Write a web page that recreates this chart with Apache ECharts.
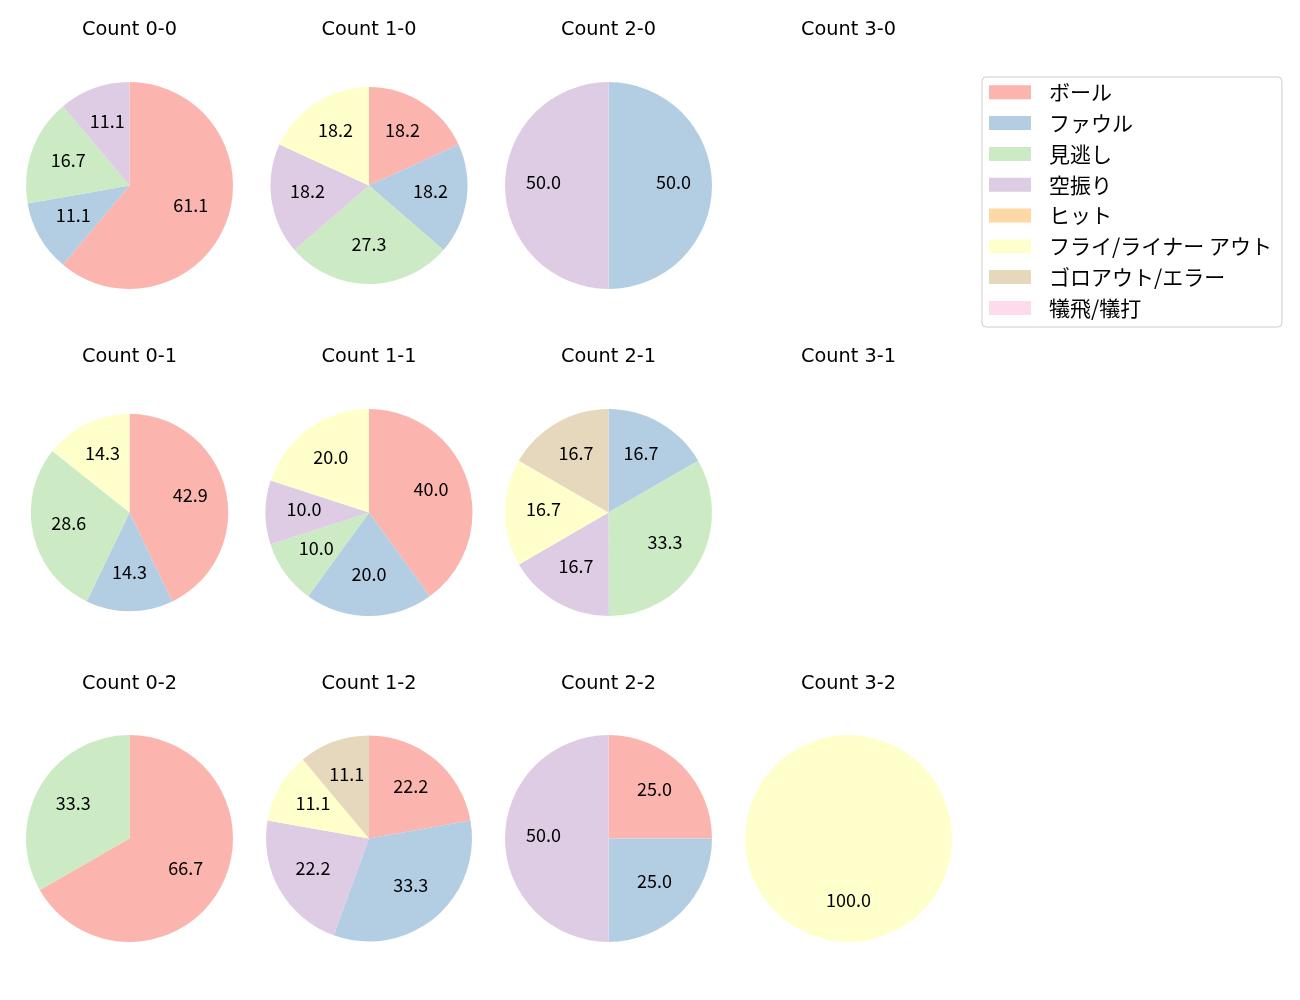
<!DOCTYPE html>
<html>
<head>
<meta charset="utf-8">
<script src="https://cdn.jsdelivr.net/npm/echarts@6/dist/echarts.min.js"></script>
<style>
html,body{margin:0;padding:0;background:#fff;}
#c{width:1300px;height:1000px;}
</style>
</head>
<body>
<div id="c"></div>
<script>
const categories = ['ボール','ファウル','見逃し','空振り','ヒット','フライ/ライナー アウト','ゴロアウト/エラー','犠飛/犠打'];
const colors = ['#fbb4ae','#b3cde3','#ccebc5','#decbe4','#fed9a6','#ffffcc','#e5d8bd','#fddaec'];

const countLabels = ['0-0','1-0','2-0','3-0','0-1','1-1','2-1','3-1','0-2','1-2','2-2','3-2'];

const v00 = [61.1, 11.1, 16.7, 11.1, 0, 0, 0, 0];
const v10 = [18.2, 18.2, 27.3, 18.2, 0, 18.2, 0, 0];
const v20 = [0, 50.0, 0, 50.0, 0, 0, 0, 0];
const v30 = [];
const v01 = [42.9, 14.3, 28.6, 0, 0, 14.3, 0, 0];
const v11 = [40.0, 20.0, 10.0, 10.0, 0, 20.0, 0, 0];
const v21 = [0, 16.7, 33.3, 16.7, 0, 16.7, 16.7, 0];
const v31 = [];
const v02 = [66.7, 0, 33.3, 0, 0, 0, 0, 0];
const v12 = [22.2, 33.3, 0, 22.2, 0, 11.1, 11.1, 0];
const v22 = [25.0, 25.0, 0, 50.0, 0, 0, 0, 0];
const v32 = [0, 0, 0, 0, 0, 100.0, 0, 0];

const allValues = [v00, v10, v20, v30, v01, v11, v21, v31, v02, v12, v22, v32];

// layout
const colX = [129.5, 369, 608.5, 848.5];
const rowY = [185.5, 512.5, 838.5];
const titleY = [28, 355, 682];
const radii = [103.5, 98.5, 103.5, 103.5, 98.7, 103.5, 103.5, 103.5, 103.5, 103, 103.5, 103.5];

const FONT = '"Noto Sans CJK JP", "Noto Sans", sans-serif';
const TITLE_FONT = '"DejaVu Sans", "Noto Sans CJK JP", sans-serif';
const TITLE_SIZE = 19.3;

const titles = [];
const series = [];

countLabels.forEach((lab, i) => {
  const col = i % 4, row = Math.floor(i / 4);
  const cx = colX[col], cy = rowY[row], r = radii[i];
  titles.push({
    text: 'Count ' + lab,
    left: colX[col],
    top: titleY[row] - TITLE_SIZE / 2 + 1,
    padding: 0,
    textAlign: 'center',
    textStyle: { fontFamily: TITLE_FONT, fontSize: TITLE_SIZE, fontWeight: 'normal', color: '#000', lineHeight: 21 }
  });
  const vals = allValues[i];
  const data = [];
  vals.forEach((v, k) => {
    if (v > 0) data.push({ name: categories[k], value: v, itemStyle: { color: colors[k] } });
  });
  if (!data.length) return;
  series.push({
    type: 'pie',
    center: [cx, cy],
    radius: [0, r],
    startAngle: 90,
    clockwise: true,
    silent: true,
    label: { show: false },
    labelLine: { show: false },
    itemStyle: { borderWidth: 0 },
    emphasis: { disabled: true },
    animation: false,
    data: data
  });
  // label overlay: inside label sits at mid radius => 0.6 * r
  series.push({
    type: 'pie',
    center: [cx, cy],
    radius: [0.2 * r, r],
    startAngle: 90,
    clockwise: true,
    silent: true,
    legendHoverLink: false,
    label: {
      show: true,
      position: 'inside',
      formatter: p => Number(p.value).toFixed(1),
      fontFamily: FONT,
      fontSize: 18,
      color: '#000'
    },
    labelLayout: { dy: -3 },
    labelLine: { show: false },
    itemStyle: { color: 'rgba(0,0,0,0)', borderWidth: 0 },
    emphasis: { disabled: true },
    animation: false,
    data: data.map(d => ({ name: d.name, value: d.value, itemStyle: { color: 'rgba(0,0,0,0)' } }))
  });
});

// legend provider
series.push({
  type: 'pie',
  center: [-500, -500],
  radius: [0, 1],
  silent: true,
  label: { show: false },
  labelLine: { show: false },
  animation: false,
  data: categories.map((c, k) => ({ name: c, value: 1, itemStyle: { color: colors[k] } }))
});

const chart = echarts.init(document.getElementById('c'), null, { renderer: 'canvas' });
chart.setOption({
  backgroundColor: '#fff',
  animation: false,
  title: titles,
  legend: {
    orient: 'vertical',
    left: 982,
    top: 77,
    data: categories,
    icon: 'rect',
    itemWidth: 42,
    itemHeight: 14,
    itemGap: 9.8,
    padding: [4.8, 10, 8.6, 7],
    borderColor: '#cccccc',
    borderWidth: 1,
    borderRadius: 4,
    selectedMode: false,
    textStyle: { fontFamily: FONT, fontSize: 21, color: '#000', lineHeight: 20, padding: [0, 0, 0, 13] }
  },
  series: series
});
</script>
</body>
</html>
